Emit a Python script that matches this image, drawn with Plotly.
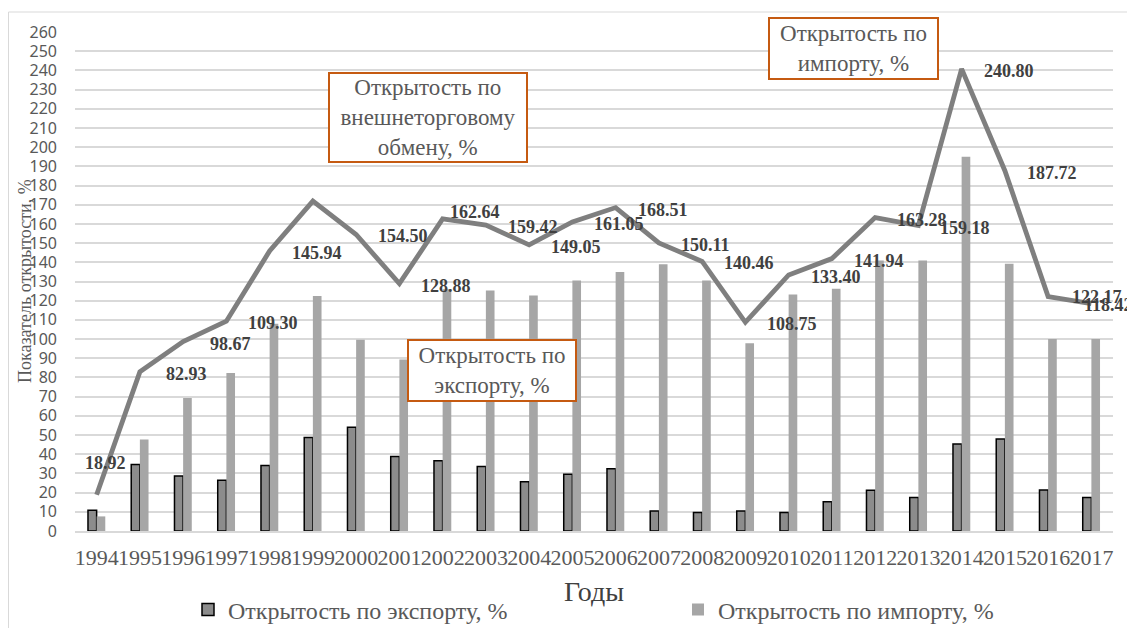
import plotly.graph_objects as go

years = [str(y) for y in range(1994, 2018)]
export_open = [10.8, 34.6, 28.7, 26.5, 34.1, 48.7, 54.0, 38.8, 36.6, 33.6, 25.7, 29.6,
               32.5, 10.4, 9.6, 10.4, 9.6, 15.3, 21.2, 17.4, 45.3, 47.9, 21.4, 17.4]
import_open = [7.6, 47.7, 69.3, 82.3, 108.0, 122.5, 99.6, 89.3, 126.0, 125.3, 122.7, 130.5,
               135.0, 139.0, 130.5, 97.8, 123.2, 126.2, 141.0, 141.0, 195.0, 139.3, 100.1, 100.1]
trade_open = [18.92, 82.93, 98.67, 109.30, 145.94, 171.9, 154.50, 128.88, 162.64, 159.42,
              149.05, 161.05, 168.51, 150.11, 140.46, 108.75, 133.40, 141.94, 163.28, 159.18,
              240.80, 187.72, 122.17, 118.42]
y_ticks = list(range(0, 261, 10))
x_title = "Годы"
y_title = "Показатель открытости, %"

# label placement (style only)
hidden_labels = {"1999"}
label_offsets = {"1994": (9, 32), "2002": (32, 7), "2016": (49, 0), "2017": (17, -1)}
default_offset = (47, -2)

# the page body adds an 8px margin, so the figure is sized to fill the rest of the window
OFF = 8
W, H = 1135 - OFF, 628 - OFF
ML, MR, MT, MB = 67, 22, 24, 97
PW, PH = W - ML - MR, H - MT - MB

def px_x(p):  # p: screen pixel
    return (p - OFF - ML) / PW

def px_y(p):
    return (H - MB - (p - OFF)) / PH

serif = "Liberation Serif, Times New Roman, serif"
grey_txt = "#595959"

fig = go.Figure()
fig.add_trace(go.Bar(
    x=years, y=export_open, name="Открытость по экспорту, %", legend="legend",
    marker=dict(color="#8c8c8c", line=dict(color="#000000", width=1.5)),
))
fig.add_trace(go.Bar(
    x=years, y=import_open, name="Открытость по импорту, %", legend="legend2",
    marker=dict(color="#a6a6a6", line=dict(width=0)),
))
fig.add_trace(go.Scatter(
    x=years, y=trade_open, mode="lines", name="Открытость по внешнеторговому обмену, %",
    line=dict(color="#7f7f7f", width=4.8), showlegend=False,
))

annotations = []
for i, (yr, v) in enumerate(zip(years, trade_open)):
    if yr in hidden_labels:
        continue
    dx, dy = label_offsets.get(yr, default_offset)
    annotations.append(dict(
        x=i, y=v, xref="x", yref="y", text=f"{v:.2f}", showarrow=False,
        xshift=dx, yshift=dy, font=dict(family=serif, size=18, color="#404040", weight="bold"),
        xanchor="center", yanchor="middle",
    ))

box_style = dict(showarrow=False, bordercolor="#c55a11", borderwidth=2, bgcolor="#ffffff",
                 font=dict(family=serif, size=23, color=grey_txt), align="center",
                 xanchor="center", yanchor="middle", xref="paper", yref="paper", borderpad=0)
annotations.append(dict(text="Открытость по<br>внешнеторговому<br>обмену, %",
                        x=px_x(428), y=px_y(117.5), width=196, height=87, **box_style))
annotations.append(dict(text="Открытость по<br>экспорту, %",
                        x=px_x(492), y=px_y(370.5), width=166, height=59, **box_style))
annotations.append(dict(text="Открытость по<br>импорту, %",
                        x=px_x(853.5), y=px_y(48.5), width=167, height=59, **box_style))

# axis titles
annotations.append(dict(text=x_title, xref="paper", yref="paper", x=0.5, y=px_y(591),
                        xanchor="center", yanchor="middle", showarrow=False,
                        font=dict(family=serif, size=28, color="#404040")))
annotations.append(dict(text=y_title, xref="paper", yref="paper", x=px_x(25), y=px_y(281),
                        xanchor="center", yanchor="middle", showarrow=False, textangle=-90,
                        font=dict(family=serif, size=18, color=grey_txt)))

legend_common = dict(orientation="h", xref="container", yref="container",
                     xanchor="left", yanchor="middle", y=(H - (610 - OFF)) / H,
                     font=dict(family=serif, size=24, color=grey_txt),
                     bgcolor="rgba(0,0,0,0)")

fig.update_layout(
    width=W, height=H,
    margin=dict(l=ML, r=MR, t=MT, b=MB, autoexpand=False),
    paper_bgcolor="#ffffff", plot_bgcolor="#ffffff",
    barmode="group", bargap=0.6, bargroupgap=0,
    annotations=annotations,
    legend=dict(x=(228 - OFF - 40) / W, **legend_common),
    legend2=dict(x=(718 - OFF - 40) / W, **legend_common),
    shapes=[dict(type="rect", xref="paper", yref="paper",
                 x0=px_x(8.5), x1=px_x(1150), y0=px_y(650), y1=px_y(12),
                 line=dict(color="#d9d9d9", width=1), fillcolor="rgba(0,0,0,0)", layer="below")],
    showlegend=True,
)
fig.update_xaxes(
    type="category", range=[-0.5, len(years) - 0.5], tickmode="array", tickvals=years,
    ticktext=years, tickangle=0,
    tickfont=dict(family=serif, size=22, color=grey_txt),
    showgrid=False, showline=True, linecolor="#d9d9d9", linewidth=1.5, ticks="",
    ticklabelstandoff=6, automargin=False,
)
fig.update_yaxes(
    range=[0, 260], tickmode="array", tickvals=y_ticks, ticks="",
    tickfont=dict(family="Noto Sans, Open Sans, sans-serif", size=16, color=grey_txt),
    showgrid=True, gridcolor="#d9d9d9", gridwidth=1.5, zeroline=False,
    ticklabelstandoff=17, automargin=False,
)

fig.write_html("out.html")
